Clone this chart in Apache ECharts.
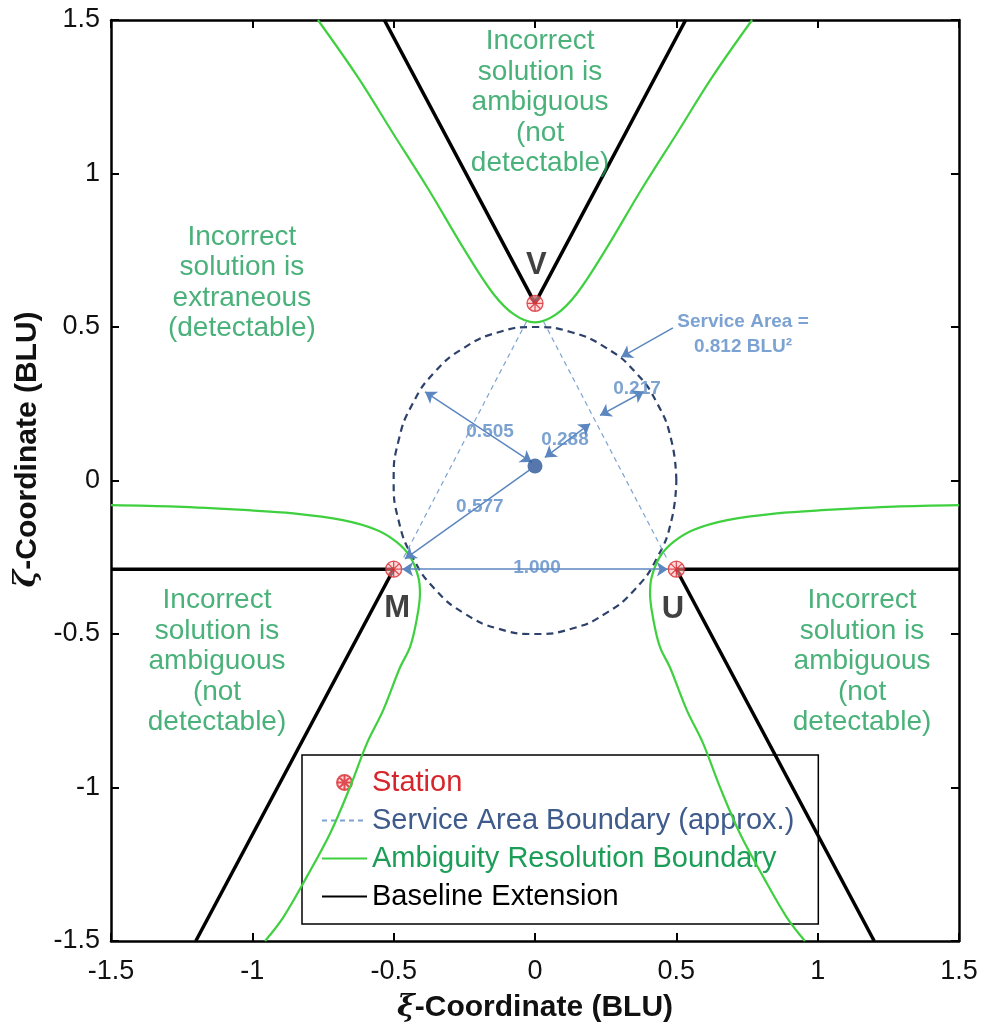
<!DOCTYPE html>
<html><head><meta charset="utf-8">
<script src="https://cdn.jsdelivr.net/npm/echarts@6/dist/echarts.min.js"></script>
<style>html,body{margin:0;padding:0;background:#fff}#c{width:984px;height:1032px}</style>
</head><body><div id="c"></div>
<script>
// ---- data ----
const axisMin = -1.5, axisMax = 1.5, axisStep = 0.5;
const stationNames = ['M', 'U', 'V'];
const stationPts = [[-0.5, -0.289], [0.5, -0.289], [0, 0.577]];
const centerDot = [[0, 0.047]];
const serviceCircle = [[0.5,0],[0.483,0.129],[0.433,0.25],[0.354,0.354],[0.25,0.433],[0.129,0.483],[0,0.5],[-0.129,0.483],[-0.25,0.433],[-0.354,0.354],[-0.433,0.25],[-0.483,0.129],[-0.5,0],[-0.483,-0.129],[-0.433,-0.25],[-0.354,-0.354],[-0.25,-0.433],[-0.129,-0.483],[0,-0.5],[0.129,-0.483],[0.25,-0.433],[0.354,-0.354],[0.433,-0.25],[0.483,-0.129],[0.5,0]];
const serviceChordLeft = [[-0.03, 0.518], [-0.47, -0.26]];
const serviceChordRight = [[0.03, 0.518], [0.47, -0.26]];
const greenTop = [[-0.768,1.5],[-0.629,1.317],[-0.503,1.132],[-0.376,0.947],[-0.25,0.752],[-0.149,0.61],[-0.073,0.54],[0,0.515],[0.073,0.54],[0.149,0.61],[0.25,0.752],[0.376,0.947],[0.503,1.132],[0.629,1.317],[0.768,1.5]];
const greenLeft = [[-1.5,-0.08],[-1.27,-0.085],[-1.03,-0.096],[-0.855,-0.107],[-0.68,-0.129],[-0.56,-0.161],[-0.49,-0.2],[-0.442,-0.248],[-0.413,-0.314],[-0.407,-0.368],[-0.419,-0.455],[-0.442,-0.542],[-0.478,-0.61],[-0.537,-0.748],[-0.595,-0.857],[-0.654,-0.998],[-0.725,-1.15],[-0.808,-1.292],[-0.89,-1.422],[-0.955,-1.5]];
const greenRight = [[1.5,-0.08],[1.27,-0.085],[1.03,-0.096],[0.855,-0.107],[0.68,-0.129],[0.56,-0.161],[0.49,-0.2],[0.442,-0.248],[0.413,-0.314],[0.407,-0.368],[0.419,-0.455],[0.442,-0.542],[0.478,-0.61],[0.537,-0.748],[0.595,-0.857],[0.654,-0.998],[0.725,-1.15],[0.808,-1.292],[0.89,-1.422],[0.955,-1.5]];
const baselines = [
  [[0, 0.577], [-0.533, 1.5]],
  [[0, 0.577], [0.533, 1.5]],
  [[-0.5, -0.289], [-1.5, -0.289]],
  [[0.5, -0.289], [1.5, -0.289]],
  [[-0.5, -0.289], [-1.2, -1.5]],
  [[0.5, -0.289], [1.2, -1.5]]
];
// [x1, y1, x2, y2, startArrow, endArrow]
const arrowSegs = [
  [-0.389, 0.289, -0.012, 0.06, 'arrow', 'arrow'],
  [-0.46, -0.255, -0.02, 0.034, 'arrow', 'none'],
  [-0.47, -0.289, 0.47, -0.289, 'arrow', 'arrow'],
  [0.035, 0.075, 0.195, 0.185, 'arrow', 'arrow'],
  [0.23, 0.212, 0.385, 0.29, 'arrow', 'arrow'],
  [0.488, 0.497, 0.305, 0.402, 'none', 'arrow']
];
const valueLabels = [['0.505', -0.159, 0.158], ['0.288', 0.106, 0.132], ['0.217', 0.361, 0.298], ['0.577', -0.195, -0.086], ['1.000', 0.007, -0.285], ['Service Area =', 0.736, 0.517], ['0.812 BLU²', 0.736, 0.435]];
const stationLabels = [['V', 0.005, 0.7], ['M', -0.488, -0.416], ['U', 0.488, -0.42]];
const regionLabels = [
  ['Incorrect\nsolution is\nambiguous\n(not\ndetectable)', 0.018, 1.231],
  ['Incorrect\nsolution is\nextraneous\n(detectable)', -1.037, 0.644],
  ['Incorrect\nsolution is\nambiguous\n(not\ndetectable)', -1.125, -0.589],
  ['Incorrect\nsolution is\nambiguous\n(not\ndetectable)', 1.157, -0.589]
];
const legendNames = ['Station', 'Service Area Boundary (approx.)', 'Ambiguity Resolution Boundary', 'Baseline Extension'];
const legendColors = ['#d7262b', '#3e5b8c', '#1c9e58', '#000000'];

// ---- styles ----
const FONT = 'Liberation Sans, Arial, sans-serif';
const GREEN = '#3fd03f';
const ARROW_BLUE = '#5c86bf';
const stationSymbol = 'path://M50,0A50,50,0,1,1,50,100A50,50,0,1,1,50,0ZM0,50L100,50M50,0L50,100M15,15L85,85M85,15L15,85';

const chart = echarts.init(document.getElementById('c'), null, {renderer: 'canvas'});

function baseAxis(extra) {
  return Object.assign({
    type: 'value', min: axisMin, max: axisMax, interval: axisStep,
    axisLine: {show: true, onZero: false, lineStyle: {color: '#000', width: 2.5}},
    axisTick: {show: true, inside: true, length: 8, lineStyle: {color: '#000', width: 2}},
    splitLine: {show: false},
    axisLabel: {show: false}
  }, extra);
}

const series = [];
series.push({
  name: 'Service Area Circle', type: 'line', data: serviceCircle, smooth: 0.5, symbol: 'none',
  lineStyle: {color: '#2d416a', width: 2.2, type: [7, 5]}, z: 3
});
[serviceChordLeft, serviceChordRight].forEach(d => series.push({
  name: legendNames[1], type: 'line', data: d, symbol: 'none',
  itemStyle: {color: '#7ea2d2'},
  lineStyle: {color: '#7ea2d2', width: 1.2, type: [5, 4]}, z: 3
}));
[greenTop, greenLeft, greenRight].forEach(d => series.push({
  name: legendNames[2], type: 'line', data: d, symbol: 'none', smooth: 0.35,
  itemStyle: {color: GREEN},
  lineStyle: {color: GREEN, width: 2.2}, z: 4
}));
baselines.forEach(d => series.push({
  name: legendNames[3], type: 'line', data: d, symbol: 'none',
  itemStyle: {color: '#000'},
  lineStyle: {color: '#000', width: 3.5}, z: 5
}));
series.push({
  name: 'Arrows', type: 'lines', coordinateSystem: 'cartesian2d',
  data: arrowSegs.map(a => ({coords: [[a[0], a[1]], [a[2], a[3]]], symbol: [a[4], a[5]]})),
  symbolSize: 11, lineStyle: {color: ARROW_BLUE, width: 1.5, opacity: 1, curveness: 0}, z: 6
});
series.push({
  name: 'Center', type: 'scatter', data: centerDot, symbolSize: 15,
  itemStyle: {color: '#2a5597'}, z: 7
});
series.push({
  name: legendNames[0], type: 'scatter', data: stationPts, symbol: stationSymbol, symbolSize: 16,
  symbolKeepAspect: true,
  itemStyle: {color: 'rgba(255,190,190,0.7)', borderColor: '#d8282e', borderWidth: 1.3}, z: 8
});
series.push({
  name: 'ValueLabels', type: 'scatter', symbolSize: 0, z: 9,
  data: valueLabels.map(v => ({name: v[0], value: [v[1], v[2]]})),
  label: {show: true, position: 'inside', formatter: p => p.name, color: '#5b8bc6',
    fontFamily: FONT, fontWeight: 'bold', fontSize: 19}
});
series.push({
  name: 'StationLabels', type: 'scatter', symbolSize: 0, z: 9,
  data: stationLabels.map(v => ({name: v[0], value: [v[1], v[2]]})),
  label: {show: true, position: 'inside', formatter: p => p.name, color: '#111',
    fontFamily: FONT, fontWeight: 'bold', fontSize: 31}
});
series.push({
  name: 'RegionLabels', type: 'scatter', symbolSize: 0, z: 9,
  data: regionLabels.map(v => ({name: v[0], value: [v[1], v[2]]})),
  label: {show: true, position: 'inside', formatter: p => p.name, color: '#1c9e58',
    fontFamily: FONT, fontSize: 28, lineHeight: 30.5, align: 'center'}
});

chart.setOption({
  animation: false,
  backgroundColor: '#fff',
  textStyle: {fontFamily: FONT},
  grid: {left: 111, right: 25, top: 20, bottom: 91, containLabel: false},
  xAxis: [
    baseAxis({position: 'bottom',
      axisLabel: {show: true, color: '#111', fontSize: 27, fontFamily: FONT, margin: 17},
      name: '{g|ξ}-Coordinate (BLU)', nameLocation: 'middle', nameGap: 52,
      nameTextStyle: {color: '#111', fontSize: 30, fontWeight: 'bold', fontFamily: FONT,
        rich: {g: {fontFamily: 'DejaVu Serif', fontStyle: 'italic', fontSize: 30, color: '#111'}}}}),
    baseAxis({position: 'top'})
  ],
  yAxis: [
    baseAxis({position: 'left',
      axisLabel: {show: true, color: '#111', fontSize: 27, fontFamily: FONT, margin: 11},
      name: '{g|ζ}-Coordinate (BLU)', nameLocation: 'middle', nameGap: 66,
      nameTextStyle: {color: '#111', fontSize: 30, fontWeight: 'bold', fontFamily: FONT, padding: [0, 0, 0, 62],
        rich: {g: {fontFamily: 'DejaVu Serif', fontStyle: 'italic', fontSize: 30, color: '#111'}}}}),
    baseAxis({position: 'right'})
  ],
  legend: {
    orient: 'vertical', left: 302, top: 755,
    padding: [13, 24, 13, 19], itemGap: 9, itemWidth: 45, itemHeight: 15,
    borderColor: '#000', borderWidth: 1.5, backgroundColor: '#fff',
    textStyle: {fontSize: 29, fontFamily: FONT},
    data: legendNames.map((n, i) => i === 0
      ? {name: n, textStyle: {color: legendColors[i]}}
      : {name: n, textStyle: {color: legendColors[i]}, itemStyle: {opacity: 0}})
  },
  series: series
});
</script></body></html>
